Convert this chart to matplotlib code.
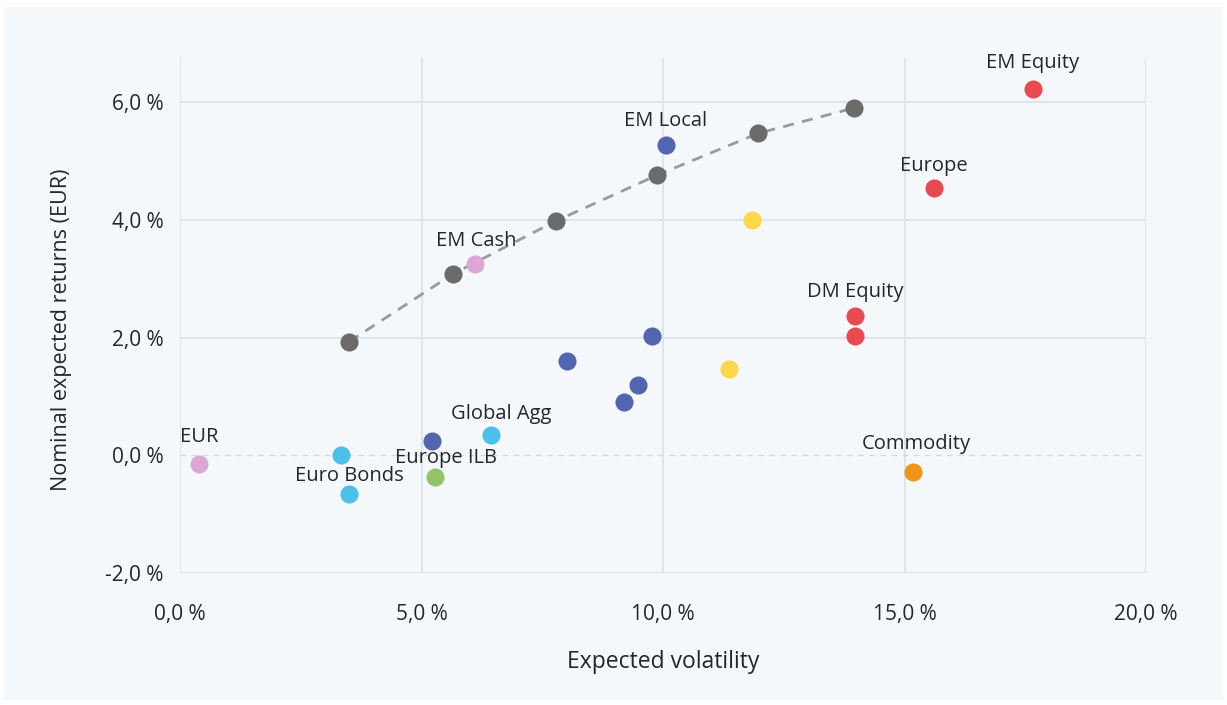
import matplotlib.pyplot as plt
from matplotlib.patches import Rectangle
from matplotlib.ticker import FuncFormatter

plt.rcParams['font.family'] = ['Open Sans', 'DejaVu Sans']

# efficient frontier (gray, dashed)
frontier_vol = [3.5, 5.65, 7.78, 9.88, 11.97, 13.95]
frontier_ret = [1.93, 3.08, 3.98, 4.76, 5.47, 5.90]

# asset classes, grouped by colour
pink_vol = [0.39, 6.11]
pink_ret = [-0.15, 3.25]
lightblue_vol = [3.33, 3.50, 6.44]
lightblue_ret = [0.0, -0.66, 0.34]
green_vol = [5.28]
green_ret = [-0.37]
darkblue_vol = [5.22, 8.01, 9.19, 9.48, 9.77, 10.06]
darkblue_ret = [0.24, 1.61, 0.90, 1.19, 2.03, 5.27]
yellow_vol = [11.37, 11.84]
yellow_ret = [1.47, 4.00]
red_vol = [13.98, 13.98, 15.61, 17.66]
red_ret = [2.03, 2.37, 4.54, 6.22]
orange_vol = [15.18]
orange_ret = [-0.29]

# labels: name, anchor point (vol, ret), pixel offset of label centre
labels = ["EUR", "Euro Bonds", "Europe ILB", "Global Agg", "EM Cash",
          "EM Local", "Europe", "DM Equity", "Commodity", "EM Equity"]
label_vol = [0.39, 3.50, 5.28, 6.44, 6.11, 10.06, 15.61, 13.98, 15.18, 17.66]
label_ret = [-0.15, -0.66, -0.37, 0.34, 3.25, 5.27, 4.54, 2.37, -0.29, 6.22]
label_off = [(0, 27), (0, 18), (11, 19), (10, 21), (1, 23),
             (0, 24), (0, 22), (0, 24), (3, 28), (0, 26)]

txt_c = '#262626'

fig = plt.figure(figsize=(12.27, 7.05), dpi=100)
fig.patch.set_facecolor('white')
fig.patches.append(Rectangle((4 / 1227, 5 / 705), 1219 / 1227, 693 / 705,
                             transform=fig.transFigure, facecolor='#f5f8fb',
                             edgecolor='none', zorder=-10))

ax = fig.add_axes([180 / 1227, 1 - 573 / 705, 966 / 1227, 515 / 705])
ax.set_facecolor('#f5f8fb')

grid_c = '#dfe4ea'
for s in ax.spines.values():
    s.set_visible(False)
ax.set_xlim(0, 20)
ax.set_ylim(-2, 6.75)
ax.set_xticks([0, 5, 10, 15, 20])
ax.set_yticks([-2, 0, 2, 4, 6])
for x in [0, 5, 10, 15, 20]:
    ax.axvline(x, color=grid_c, lw=1.5, zorder=0)
for y in [-2, 2, 4, 6]:
    ax.axhline(y, color=grid_c, lw=1.5, zorder=0)
ax.axhline(0, color='#d3d9e0', lw=1, ls=(0, (4, 4)), zorder=0)

fmt = FuncFormatter(lambda v, p: f"{v:.1f}".replace('.', ',') + " %")
ax.xaxis.set_major_formatter(fmt)
ax.yaxis.set_major_formatter(fmt)
ax.tick_params(length=0, labelsize=15, colors=txt_c)
ax.tick_params(axis='x', pad=22)
ax.tick_params(axis='y', pad=12)

ax.set_xlabel("Expected volatility", fontsize=16.5, color=txt_c, labelpad=18)
ax.set_ylabel("Nominal expected returns (EUR)", fontsize=15.5, color=txt_c)
ax.yaxis.set_label_coords(-0.112, 0.472)

ax.plot(frontier_vol, frontier_ret, color='#9a9a9a', lw=2, ls=(0, (4, 3)), zorder=2)

ms = 170
ax.scatter(frontier_vol, frontier_ret, s=ms, color='#6b6b6b', zorder=3, lw=0)
ax.scatter(pink_vol, pink_ret, s=ms, color='#dca7d4', zorder=3, lw=0)
ax.scatter(lightblue_vol, lightblue_ret, s=ms, color='#4cc0ea', zorder=3, lw=0)
ax.scatter(green_vol, green_ret, s=ms, color='#93c46a', zorder=3, lw=0)
ax.scatter(darkblue_vol, darkblue_ret, s=ms, color='#5465b0', zorder=3, lw=0)
ax.scatter(yellow_vol, yellow_ret, s=ms, color='#fbd84a', zorder=3, lw=0)
ax.scatter(red_vol, red_ret, s=ms, color='#e84a50', zorder=3, lw=0)
ax.scatter(orange_vol, orange_ret, s=ms, color='#f0951a', zorder=3, lw=0)

for name, x, y, (dx, dy) in zip(labels, label_vol, label_ret, label_off):
    ax.annotate(name, (x, y), xytext=(dx * 0.72, dy * 0.72), textcoords='offset points',
                ha='center', va='center', fontsize=14.5, color=txt_c, zorder=4)

fig.savefig("out.png", dpi=100, facecolor=fig.get_facecolor())
